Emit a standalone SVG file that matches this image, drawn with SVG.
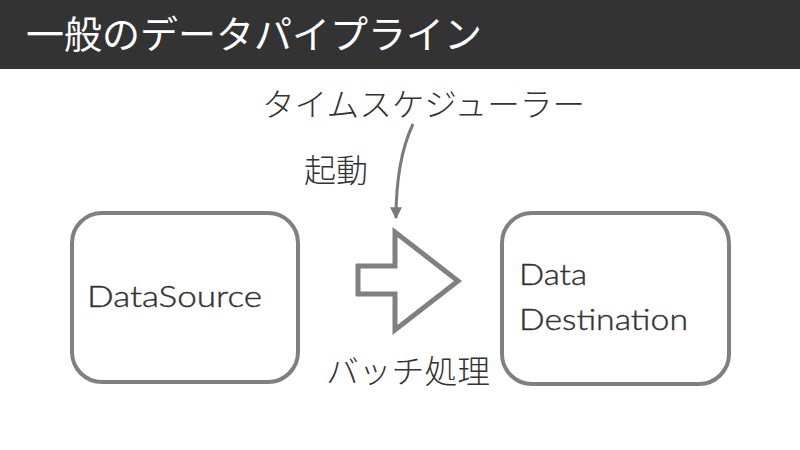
<svg xmlns="http://www.w3.org/2000/svg" width="800" height="450" viewBox="0 0 800 450">
<defs>
<style>
.jp{font-family:"Noto Sans CJK JP","Noto Sans",sans-serif;fill:#333;font-size:32px;font-weight:300;}
.title{font-family:"Noto Sans CJK JP","Noto Sans",sans-serif;fill:#fff;font-size:38px;font-weight:400;}
.lat{font-family:Lato,"Noto Sans",sans-serif;fill:#333;stroke:#333;stroke-width:0.4;font-size:30px;font-weight:300;}
.box{fill:#fff;stroke:#808080;stroke-width:4;}
.conn{fill:none;stroke:#7a7a7a;stroke-width:3;}
</style>
<marker id="ah" viewBox="0 0 10 10" refX="9" refY="5" markerWidth="4" markerHeight="4" orient="auto" markerUnits="strokeWidth">
<path d="M0,0 L10,5 L0,10 z" fill="#7a7a7a"/>
</marker>
</defs>
<rect x="0" y="0" width="800" height="69" fill="#333"/>
<text class="title" x="26" y="48">一般のデータパイプライン</text>
<g id="scheduler"><text class="jp" x="262" y="116" textLength="323" lengthAdjust="spacingAndGlyphs">タイムスケジューラー</text></g>
<g id="kidou"><text class="jp" x="304" y="182">起動</text></g>
<g id="datasource">
<rect class="box" x="72" y="213" width="226" height="169" rx="30"/>
<text class="lat" x="87" y="307" textLength="175" lengthAdjust="spacingAndGlyphs">DataSource</text>
</g>
<g id="batch">
<polygon points="358,266 395,266 395,232 458,281 395,330 395,294 358,294" fill="#fff" stroke="#808080" stroke-width="5"/>
<text class="jp" x="326" y="383" textLength="164" lengthAdjust="spacingAndGlyphs">バッチ処理</text>
</g>
<g id="datadestination">
<rect class="box" x="502" y="213" width="227" height="171" rx="30"/>
<text class="lat" x="519" y="285" textLength="68" lengthAdjust="spacingAndGlyphs">Data</text>
<text class="lat" x="519" y="330" textLength="169" lengthAdjust="spacingAndGlyphs">Destination</text>
</g>
<g id="connectors">
<path class="conn" d="M413,124 Q396,160 396,218" marker-end="url(#ah)"/>
</g>
</svg>
